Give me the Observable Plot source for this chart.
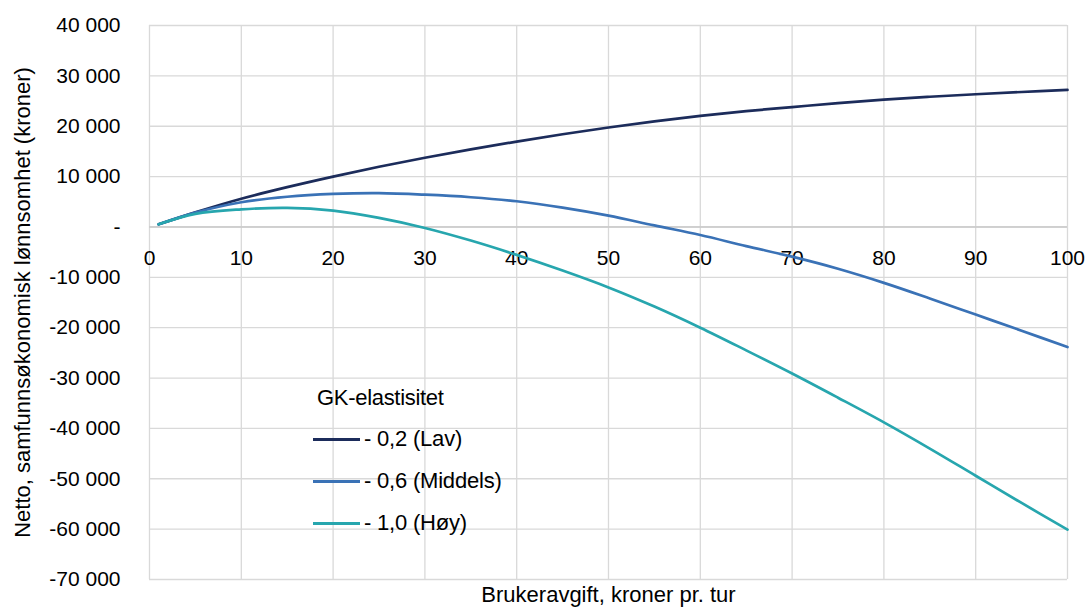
<!DOCTYPE html>
<html>
<head>
<meta charset="utf-8">
<script src="https://cdn.jsdelivr.net/npm/d3@7"></script>
<script src="https://cdn.jsdelivr.net/npm/@observablehq/plot@0.6"></script>
<style>
  body { margin: 0; background: #fff; font-family: "Liberation Sans", Arial, sans-serif; }
  #wrap { position: relative; width: 1088px; height: 609px; }
  #legend { position: absolute; left: 0; top: 0; width: 1088px; height: 609px; font-size: 22px; color: #000; pointer-events: none; }
  .lg-title { position: absolute; left: 317px; top: 385px; white-space: nowrap; letter-spacing: -0.3px; }
  .lg-row { position: absolute; left: 313px; height: 26px; display: flex; align-items: center; white-space: nowrap; letter-spacing: -0.2px; }
  .lg-row span.sw { display: inline-block; width: 47px; height: 3px; margin-right: 4px; }
</style>
</head>
<body>
<div id="wrap"><div id="chart"></div><div id="legend"></div></div>
<script>
// x: Brukeravgift, kroner pr. tur
const fees = [1, 5, 10, 15, 20, 25, 30, 35, 40, 45, 50, 55, 60, 65, 70, 75, 80, 85, 90, 95, 100];
// Netto, samfunnsøkonomisk lønnsomhet (kroner)
const lav     = [530, 2900, 5600, 7900, 10000, 11950, 13750, 15400, 16950, 18400, 19750, 20950, 22050, 23000, 23800, 24600, 25300, 25850, 26350, 26800, 27200];
const middels = [530, 2850, 4900, 6000, 6550, 6700, 6400, 5900, 5100, 3850, 2250, 300, -1600, -3800, -5900, -8300, -11100, -14200, -17400, -20600, -23850];
const hoy     = [530, 2600, 3500, 3800, 3250, 1800, -200, -2700, -5550, -8650, -12000, -15800, -20000, -24500, -29100, -33900, -38800, -44000, -49400, -54800, -60100];

const seriesNames = ["- 0,2 (Lav)", "- 0,6 (Middels)", "- 1,0 (Høy)"];
const seriesColors = ["#1c2c5b", "#3a72b6", "#27a6ae"];
const seriesValues = [lav, middels, hoy];

const xTicks = [0, 10, 20, 30, 40, 50, 60, 70, 80, 90, 100];
const yTicks = [40000, 30000, 20000, 10000, 0, -10000, -20000, -30000, -40000, -50000, -60000, -70000];
const legendTitle = "GK-elastisitet";
const xTitle = "Brukeravgift, kroner pr. tur";
const yTitle = "Netto, samfunnsøkonomisk lønnsomhet (kroner)";

const data = seriesNames.flatMap((name, i) =>
  fees.map((f, j) => ({ series: name, fee: f, value: seriesValues[i][j] })));

const fmt = d => {
  if (d === 0) return "-";
  const s = String(Math.abs(d)).replace(/\B(?=(\d{3})+(?!\d))/g, " ");
  return (d < 0 ? "-" : "") + s;
};

const chart = Plot.plot({
  width: 1088,
  height: 609,
  marginLeft: 149,
  marginRight: 21,
  marginTop: 25,
  marginBottom: 30,
  style: { fontFamily: "'Liberation Sans', Arial, sans-serif", fontSize: "21px", color: "#000", background: "#fff" },
  x: { domain: [0, 100], axis: null },
  y: { domain: [-70000, 40000], axis: null },
  color: { domain: seriesNames, range: seriesColors },
  marks: [
    Plot.gridX(xTicks, { stroke: "#d9d9d9", strokeOpacity: 1, strokeWidth: 1.3 }),
    Plot.gridY(yTicks, { stroke: "#d9d9d9", strokeOpacity: 1, strokeWidth: 1.3 }),
    Plot.ruleY([0], { stroke: "#c8c8c8", strokeWidth: 1.6 }),
    Plot.axisY(yTicks, { tickSize: 0, tickPadding: 29, tickFormat: fmt, fontSize: 21, label: null, fill: "#000" }),
    Plot.text(xTicks, { x: d => d, y: () => 0, dy: 31, text: d => String(d), fontSize: 21, fill: "#000" }),
    Plot.line(data, { x: "fee", y: "value", z: "series", stroke: "series", strokeWidth: 2.7, curve: "catmull-rom" }),
    Plot.text([yTitle], { frameAnchor: "left", dx: -127, rotate: -90, textAnchor: "middle", fontSize: 22, fill: "#000", text: d => d }),
    Plot.text([xTitle], { frameAnchor: "bottom", dy: 22, textAnchor: "middle", fontSize: 22, fill: "#000", text: d => d })
  ]
});
document.getElementById("chart").appendChild(chart);

// legend
const lg = document.getElementById("legend");
const t = document.createElement("div");
t.className = "lg-title";
t.textContent = legendTitle;
lg.appendChild(t);
const rowCenters = [439, 481, 523];
seriesNames.forEach((name, i) => {
  const r = document.createElement("div");
  r.className = "lg-row";
  r.style.top = (rowCenters[i] - 13) + "px";
  const sw = document.createElement("span");
  sw.className = "sw";
  sw.style.background = seriesColors[i];
  r.appendChild(sw);
  const tx = document.createElement("span");
  tx.textContent = name;
  r.appendChild(tx);
  lg.appendChild(r);
});
</script>
</body>
</html>
